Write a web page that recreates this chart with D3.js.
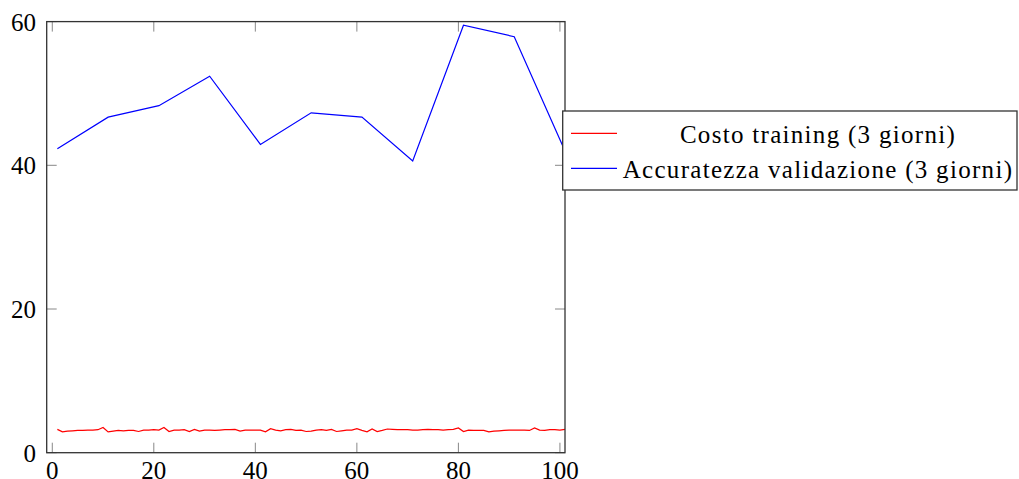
<!DOCTYPE html>
<html>
<head>
<meta charset="utf-8">
<script src="https://cdn.jsdelivr.net/npm/d3@7"></script>
<style>
  body { margin: 0; background: #fff; }
  text { fill: #000; }
</style>
</head>
<body>
<div id="chart"></div>
<script>
////////////////// Data ////////////////////
var costoX = d3.range(1, 102);
var costoY = [
  3.25, 2.9, 3.0, 3.05, 3.1, 3.1, 3.15, 3.15, 3.2, 3.5,
  2.9, 3.0, 3.1, 3.05, 3.1, 3.1, 2.95, 3.15, 3.15, 3.2,
  3.15, 3.5, 2.95, 3.15, 3.15, 3.2, 2.95, 3.25, 3.0, 3.15,
  3.15, 3.1, 3.15, 3.2, 3.2, 3.25, 3.0, 3.15, 3.15, 3.15,
  3.15, 2.9, 3.35, 3.15, 3.05, 3.2, 3.25, 3.1, 3.15, 2.95,
  3.0, 3.15, 3.2, 3.1, 3.25, 2.95, 3.05, 3.15, 3.15, 3.35,
  3.1, 2.9, 3.3, 2.95, 3.1, 3.3, 3.25, 3.2, 3.2, 3.2,
  3.15, 3.15, 3.2, 3.25, 3.2, 3.2, 3.15, 3.2, 3.25, 3.45,
  2.95, 3.15, 3.1, 3.1, 3.1, 2.9, 3.0, 3.05, 3.1, 3.15,
  3.15, 3.15, 3.15, 3.1, 3.45, 3.15, 3.1, 3.2, 3.2, 3.15,
  3.25
];
var accX = [1, 11, 21, 31, 41, 51, 61, 71, 81, 91, 101];
var accY = [42.3, 46.7, 48.3, 52.4, 42.9, 47.3, 46.7, 40.6, 59.5, 57.9, 42.0];
var xTicks = [0, 20, 40, 60, 80, 100];
var yTicks = [0, 20, 40, 60];
var seriesNames = ["Costo training (3 giorni)", "Accuratezza validazione (3 giorni)"];
var seriesColors = ["#ff0000", "#0000ff"];

////////////////// Chart Parameters ////////////////////
var svgWidth = 1019;
var svgHeight = 479;
var plot = { left: 46.7, right: 565, top: 21.6, bottom: 452.7 };
var font = "'Liberation Serif', 'DejaVu Serif', serif";

var svg = d3.select("#chart").append("svg")
  .attr("width", svgWidth)
  .attr("height", svgHeight);

////////// Scales //////////
var x = d3.scaleLinear().domain([-1.1, 101]).range([plot.left, plot.right]);
var y = d3.scaleLinear().domain([0, 60]).range([plot.bottom, plot.top]);

svg.append("clipPath").attr("id", "clip")
  .append("rect")
  .attr("x", plot.left).attr("y", plot.top)
  .attr("width", plot.right - plot.left)
  .attr("height", plot.bottom - plot.top);

////////// Tick marks (inward, all four sides) //////////
var tickLen = 10;
var ticks = svg.append("g").attr("stroke", "#888").attr("stroke-width", 1);
xTicks.forEach(function (t) {
  ticks.append("line").attr("x1", x(t)).attr("x2", x(t))
    .attr("y1", plot.bottom).attr("y2", plot.bottom - tickLen);
  ticks.append("line").attr("x1", x(t)).attr("x2", x(t))
    .attr("y1", plot.top).attr("y2", plot.top + tickLen);
});
yTicks.forEach(function (t) {
  ticks.append("line").attr("y1", y(t)).attr("y2", y(t))
    .attr("x1", plot.left).attr("x2", plot.left + tickLen);
  ticks.append("line").attr("y1", y(t)).attr("y2", y(t))
    .attr("x1", plot.right).attr("x2", plot.right - tickLen);
});

////////// Tick labels //////////
svg.append("g").selectAll("text")
  .data(xTicks).enter().append("text")
  .attr("x", d => x(d))
  .attr("y", 479)
  .attr("text-anchor", "middle")
  .attr("font-family", font)
  .attr("font-size", 25)
  .text(d => d);

svg.append("g").selectAll("text")
  .data(yTicks).enter().append("text")
  .attr("x", 36)
  .attr("y", d => y(d) + 9)
  .attr("text-anchor", "end")
  .attr("font-family", font)
  .attr("font-size", 25)
  .text(d => d);

////////// Lines //////////
var line = d3.line().x(d => x(d[0])).y(d => y(d[1]));
var lines = svg.append("g").attr("clip-path", "url(#clip)");

lines.append("path")
  .datum(d3.zip(costoX, costoY))
  .attr("d", line)
  .attr("fill", "none")
  .attr("stroke", seriesColors[0])
  .attr("stroke-width", 1.2);

lines.append("path")
  .datum(d3.zip(accX, accY))
  .attr("d", line)
  .attr("fill", "none")
  .attr("stroke", seriesColors[1])
  .attr("stroke-width", 1.2);

////////// Plot border //////////
svg.append("rect")
  .attr("x", plot.left).attr("y", plot.top)
  .attr("width", plot.right - plot.left)
  .attr("height", plot.bottom - plot.top)
  .attr("fill", "none")
  .attr("stroke", "#333")
  .attr("stroke-width", 1.3);

////////// Legend //////////
var legend = svg.append("g");
legend.append("rect")
  .attr("x", 562.7).attr("y", 111)
  .attr("width", 1017 - 562.7).attr("height", 79)
  .attr("fill", "#fff")
  .attr("stroke", "#333")
  .attr("stroke-width", 1.3);

seriesNames.forEach(function (name, i) {
  var ly = 133.3 + i * 35;
  legend.append("line")
    .attr("x1", 571).attr("x2", 617)
    .attr("y1", ly).attr("y2", ly)
    .attr("stroke", seriesColors[i])
    .attr("stroke-width", 1.2);
  legend.append("text")
    .attr("x", 818)
    .attr("y", ly + 9.5)
    .attr("text-anchor", "middle")
    .attr("font-family", font)
    .attr("font-size", 25)
    .attr("letter-spacing", "1.3px")
    .text(name);
});
</script>
</body>
</html>
